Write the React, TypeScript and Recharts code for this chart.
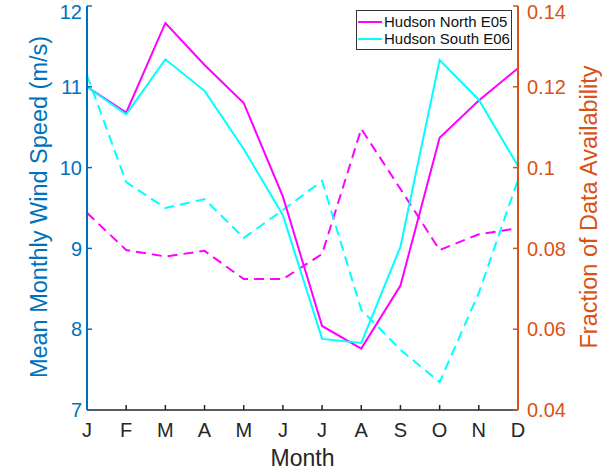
import { Label, Legend, Line, LineChart, XAxis, YAxis } from "recharts";

const monthLabels = ["J", "F", "M", "A", "M", "J", "J", "A", "S", "O", "N", "D"];
const northSpeed = [11.0, 10.68, 11.79, 11.27, 10.8, 9.64, 8.04, 7.76, 8.54, 10.37, 10.83, 11.23];
const southSpeed = [11.0, 10.66, 11.34, 10.95, 10.23, 9.41, 7.88, 7.83, 9.02, 11.33, 10.84, 10.02];
const northFraction = [0.0888, 0.0796, 0.078, 0.0794, 0.0724, 0.0724, 0.0786, 0.1096, 0.0947, 0.0796, 0.0835, 0.085];
const southFraction = [0.1229, 0.0964, 0.09, 0.0922, 0.0826, 0.0895, 0.0967, 0.0648, 0.0549, 0.0469, 0.069, 0.097];
const speedTicks = [7, 8, 9, 10, 11, 12];
const fractionTicks = [0.04, 0.06, 0.08, 0.1, 0.12, 0.14];
const legendItems = [
  { name: "Hudson North E05", color: "#ff00ff" },
  { name: "Hudson South E06", color: "#00ffff" },
];

const data = monthLabels.map((m, i) => ({
  idx: i,
  northSpeed: northSpeed[i],
  southSpeed: southSpeed[i],
  northFraction: northFraction[i],
  southFraction: southFraction[i],
}));

const font = "'Liberation Sans', Arial, sans-serif";
const blue = "#0072BD";
const orange = "#D95319";

const LegendBox = () => (
  <div
    style={{
      width: 156,
      height: 40,
      border: "1.5px solid #333",
      background: "#fff",
      fontFamily: font,
      fontSize: 15,
      lineHeight: "17px",
      color: "#111",
      paddingTop: 2,
      boxSizing: "border-box",
      whiteSpace: "nowrap",
      overflow: "hidden",
    }}
  >
    {legendItems.map((it) => (
      <div key={it.name} style={{ display: "flex", alignItems: "center", height: 17 }}>
        <span style={{ display: "inline-block", flex: "none", width: 24, height: 2, background: it.color, marginLeft: 1, marginRight: 2 }} />
        <span>{it.name}</span>
      </div>
    ))}
  </div>
);

export default function App() {
  return (
    <div style={{ position: "absolute", left: 0, top: 0 }}>
      <LineChart width={605} height={473} data={data} margin={{ top: 6, right: 0, left: 0, bottom: 0 }}>
        <XAxis
          dataKey="idx"
          type="number"
          domain={[0, 11]}
          ticks={data.map((d) => d.idx)}
          tickFormatter={(v) => monthLabels[v]}
          height={63}
          tickSize={-5}
          tickMargin={18}
          axisLine={{ stroke: "#262626", strokeWidth: 1.5 }}
          tickLine={{ stroke: "#262626", strokeWidth: 1.5 }}
          tick={{ fill: "#262626", fontSize: 20, fontFamily: font }}
        >
          <Label value="Month" position="insideBottom" offset={7} fill="#262626" fontSize={23} fontFamily={font} />
        </XAxis>
        <YAxis
          yAxisId="speed"
          orientation="left"
          domain={[7, 12]}
          ticks={speedTicks}
          width={87}
          tickSize={-5}
          tickMargin={10}
          axisLine={{ stroke: blue, strokeWidth: 2 }}
          tickLine={{ stroke: blue, strokeWidth: 1.5 }}
          tick={{ fill: blue, fontSize: 20, fontFamily: font }}
        >
          <Label
            content={() => (
              <text x={47} y={207} transform="rotate(-90, 47, 207)" textAnchor="middle" fill={blue} fontSize={23.5} fontFamily={font}>
                Mean Monthly Wind Speed (m/s)
              </text>
            )}
          />
        </YAxis>
        <YAxis
          yAxisId="frac"
          orientation="right"
          domain={[0.04, 0.14]}
          ticks={fractionTicks}
          tickFormatter={(v) => String(+v.toFixed(2))}
          width={87}
          tickSize={-5}
          tickMargin={14}
          axisLine={{ stroke: orange, strokeWidth: 2 }}
          tickLine={{ stroke: orange, strokeWidth: 1.5 }}
          tick={{ fill: orange, fontSize: 20, fontFamily: font, textAnchor: "start" }}
        >
          <Label
            content={() => (
              <text x={597} y={207} transform="rotate(-90, 597, 207)" textAnchor="middle" fill={orange} fontSize={23.5} fontFamily={font}>
                Fraction of Data Availability
              </text>
            )}
          />
        </YAxis>
        <Legend
          layout="vertical"
          align="center"
          verticalAlign="middle"
          wrapperStyle={{ left: 356, top: 10, width: 160 }}
          content={() => <LegendBox />}
        />
        <Line yAxisId="frac" dataKey="northFraction" stroke="#ff00ff" strokeWidth={2} strokeDasharray="10 6" dot={false} isAnimationActive={false} />
        <Line yAxisId="frac" dataKey="southFraction" stroke="#00ffff" strokeWidth={2} strokeDasharray="10 6" dot={false} isAnimationActive={false} />
        <Line yAxisId="speed" dataKey="northSpeed" stroke="#ff00ff" strokeWidth={2} dot={false} isAnimationActive={false} />
        <Line yAxisId="speed" dataKey="southSpeed" stroke="#00ffff" strokeWidth={2} dot={false} isAnimationActive={false} />
      </LineChart>
    </div>
  );
}
